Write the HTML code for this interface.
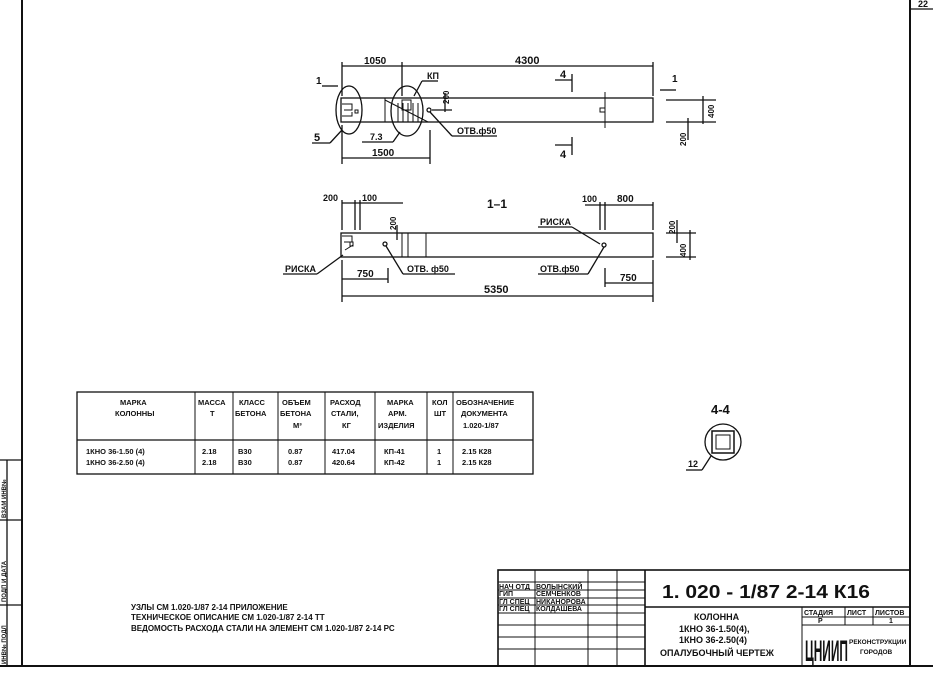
<!DOCTYPE html>
<html><head><meta charset="utf-8"><style>
html,body{margin:0;padding:0;background:#fff;width:933px;height:680px;overflow:hidden}
svg{display:block}
text{font-family:"Liberation Sans","DejaVu Sans",sans-serif;font-weight:bold;fill:#111}
</style></head><body>
<svg width="933" height="680" viewBox="0 0 933 680" xmlns="http://www.w3.org/2000/svg" stroke="#111" fill="none" stroke-width="1.3">
<line x1="22" y1="0" x2="22" y2="666" stroke-width="2"/>
<line x1="910" y1="0" x2="910" y2="666" stroke-width="2"/>
<line x1="0" y1="666" x2="933" y2="666" stroke-width="2"/>
<line x1="910" y1="9" x2="933" y2="9"/>
<text x="918" y="7" font-size="9" stroke="none">22</text>
<line x1="0" y1="460" x2="22" y2="460"/>
<line x1="0" y1="520" x2="22" y2="520"/>
<line x1="0" y1="605" x2="22" y2="605"/>
<line x1="7" y1="460" x2="7" y2="666"/>
<text transform="translate(6,518) rotate(-90)" font-size="6" stroke="none">ВЗАМ ИНВ№</text>
<text transform="translate(6,602) rotate(-90)" font-size="6" stroke="none">ПОДП И ДАТА</text>
<text transform="translate(6,664) rotate(-90)" font-size="6" stroke="none">ИНВ№ ПОДЛ</text>

<rect x="341" y="98" width="312" height="24"/>
<ellipse cx="349" cy="110" rx="13" ry="24"/>
<ellipse cx="407" cy="111" rx="16" ry="25"/>
<path d="M342 104h10v6h-8 M342 116h10v-4 M355 110h3v3h-3z M402 100h9v10h-9z" stroke-width="1"/>
<path d="M385 98v24 M398 103v19 M403 103v19 M408 103v19 M413 103v19 M418 103v19 M385 100l43 22" stroke-width="1"/>
<circle cx="429" cy="110" r="2"/>
<path d="M605 92v36 M600 108h5v4h-5z" stroke-width="1"/>
<line x1="342" y1="66" x2="653" y2="66"/>
<line x1="342" y1="62" x2="342" y2="96"/><line x1="402" y1="62" x2="402" y2="96"/><line x1="653" y1="62" x2="653" y2="96"/>
<text x="364" y="64" font-size="10" stroke="none">1050</text>
<text x="515" y="64" font-size="11" stroke="none">4300</text>
<line x1="342" y1="158" x2="430" y2="158"/>
<line x1="342" y1="125" x2="342" y2="164"/><line x1="430" y1="130" x2="430" y2="164"/>
<text x="372" y="156" font-size="10" stroke="none">1500</text>
<line x1="322" y1="86" x2="338" y2="86"/><text x="316" y="84" font-size="10" stroke="none">1</text>
<line x1="660" y1="90" x2="676" y2="90"/><text x="672" y="82" font-size="10" stroke="none">1</text>
<path d="M555 80h17 M572 74v18 M555 145h17 M572 137v18"/>
<text x="560" y="78" font-size="11" stroke="none">4</text>
<text x="560" y="158" font-size="11" stroke="none">4</text>
<line x1="445" y1="93" x2="445" y2="112"/><line x1="432" y1="110" x2="452" y2="110"/>
<text transform="translate(449,104) rotate(-90)" font-size="8" stroke="none">200</text>
<line x1="666" y1="100" x2="716" y2="100"/><line x1="666" y1="122" x2="716" y2="122"/>
<line x1="703" y1="96" x2="703" y2="124"/><line x1="688" y1="118" x2="688" y2="140"/>
<text transform="translate(714,118) rotate(-90)" font-size="8" stroke="none">400</text>
<text transform="translate(686,146) rotate(-90)" font-size="8" stroke="none">200</text>
<text x="427" y="79" font-size="9" stroke="none">КП</text><line x1="422" y1="81" x2="438" y2="81"/><line x1="422" y1="81" x2="414" y2="96"/>
<text x="314" y="141" font-size="11" stroke="none">5</text><line x1="312" y1="143" x2="330" y2="143"/><line x1="330" y1="143" x2="342" y2="130"/>
<text x="370" y="140" font-size="9" stroke="none">7.3</text><line x1="362" y1="142" x2="393" y2="142"/><line x1="393" y1="142" x2="400" y2="132"/>
<text x="457" y="134" font-size="9" stroke="none">ОТВ.ф50</text><line x1="452" y1="136" x2="497" y2="136"/><line x1="452" y1="136" x2="430" y2="112"/>

<text x="487" y="208" font-size="12" stroke="none">1–1</text>
<rect x="341" y="233" width="312" height="24"/>
<path d="M402 233v24 M408 233v24 M426 233v24 M342 236h10v6h-8 M345 250l8-5 M350 242h3v4h-3z" stroke-width="1"/>
<circle cx="385" cy="244" r="2"/><circle cx="604" cy="245" r="2"/>
<line x1="342" y1="203" x2="403" y2="203"/>
<line x1="342" y1="200" x2="342" y2="230"/><line x1="355" y1="200" x2="355" y2="230"/><line x1="360" y1="200" x2="360" y2="230"/>
<text x="323" y="201" font-size="9" stroke="none">200</text><text x="362" y="201" font-size="9" stroke="none">100</text>
<line x1="585" y1="205" x2="653" y2="205"/>
<line x1="600" y1="202" x2="600" y2="230"/><line x1="605" y1="202" x2="605" y2="230"/><line x1="653" y1="202" x2="653" y2="230"/>
<text x="582" y="202" font-size="9" stroke="none">100</text><text x="617" y="202" font-size="10" stroke="none">800</text>
<line x1="397" y1="225" x2="397" y2="240"/>
<text transform="translate(396,230) rotate(-90)" font-size="8" stroke="none">200</text>
<line x1="666" y1="233" x2="696" y2="233"/><line x1="666" y1="257" x2="696" y2="257"/>
<line x1="690" y1="230" x2="690" y2="260"/><line x1="677" y1="220" x2="677" y2="243"/>
<text transform="translate(686,257) rotate(-90)" font-size="8" stroke="none">400</text>
<text transform="translate(675,234) rotate(-90)" font-size="8" stroke="none">200</text>
<text x="540" y="225" font-size="9" stroke="none">РИСКА</text><line x1="538" y1="227" x2="572" y2="227"/><line x1="572" y1="227" x2="600" y2="244"/>
<text x="285" y="272" font-size="9" stroke="none">РИСКА</text><line x1="283" y1="274" x2="317" y2="274"/><line x1="317" y1="274" x2="343" y2="255"/>
<text x="407" y="272" font-size="9" stroke="none">ОТВ. ф50</text><line x1="403" y1="274" x2="455" y2="274"/><line x1="403" y1="274" x2="386" y2="246"/>
<text x="540" y="272" font-size="9" stroke="none">ОТВ.ф50</text><line x1="538" y1="274" x2="588" y2="274"/><line x1="588" y1="274" x2="604" y2="247"/>
<line x1="342" y1="279" x2="388" y2="279"/><line x1="605" y1="283" x2="653" y2="283"/>
<line x1="342" y1="260" x2="342" y2="302"/><line x1="388" y1="268" x2="388" y2="283"/><line x1="605" y1="268" x2="605" y2="287"/><line x1="653" y1="260" x2="653" y2="302"/>
<text x="357" y="277" font-size="10" stroke="none">750</text><text x="620" y="281" font-size="10" stroke="none">750</text>
<line x1="342" y1="296" x2="653" y2="296"/>
<text x="484" y="293" font-size="11" stroke="none">5350</text>

<rect x="77" y="392" width="456" height="82"/>
<line x1="77" y1="440" x2="533" y2="440"/>
<path d="M195 392v82 M233 392v82 M278 392v82 M325 392v82 M375 392v82 M427 392v82 M453 392v82" stroke-width="1"/>
<g font-size="7.5" stroke="none">
<text x="120" y="405">МАРКА</text><text x="115" y="416">КОЛОННЫ</text>
<text x="198" y="405">МАССА</text><text x="210" y="416">Т</text>
<text x="239" y="405">КЛАСС</text><text x="235" y="416">БЕТОНА</text>
<text x="282" y="405">ОБЪЕМ</text><text x="280" y="416">БЕТОНА</text><text x="293" y="428">М³</text>
<text x="330" y="405">РАСХОД</text><text x="331" y="416">СТАЛИ,</text><text x="342" y="428">КГ</text>
<text x="387" y="405">МАРКА</text><text x="388" y="416">АРМ.</text><text x="378" y="428">ИЗДЕЛИЯ</text>
<text x="432" y="405">КОЛ</text><text x="434" y="416">ШТ</text>
<text x="456" y="405">ОБОЗНАЧЕНИЕ</text><text x="461" y="416">ДОКУМЕНТА</text><text x="463" y="428">1.020-1/87</text>
<text x="86" y="454">1КНО 36-1.50 (4)</text><text x="86" y="465">1КНО 36-2.50 (4)</text>
<text x="202" y="454">2.18</text><text x="202" y="465">2.18</text>
<text x="238" y="454">В30</text><text x="238" y="465">В30</text>
<text x="288" y="454">0.87</text><text x="288" y="465">0.87</text>
<text x="332" y="454">417.04</text><text x="332" y="465">420.64</text>
<text x="384" y="454">КП-41</text><text x="384" y="465">КП-42</text>
<text x="437" y="454">1</text><text x="437" y="465">1</text>
<text x="462" y="454">2.15 К28</text><text x="462" y="465">2.15 К28</text>
</g>

<text x="711" y="414" font-size="13" stroke="none" font-weight="normal">4-4</text>
<circle cx="723" cy="442" r="18"/>
<rect x="712" y="431" width="22" height="22" stroke-width="1.5"/>
<rect x="716" y="435" width="14" height="14" stroke-width="1"/>
<text x="688" y="467" font-size="9" stroke="none">12</text><line x1="686" y1="470" x2="702" y2="470"/><line x1="702" y1="470" x2="711" y2="456"/>

<g font-size="8" stroke="none">
<text x="131" y="610">УЗЛЫ СМ 1.020-1/87 2-14 ПРИЛОЖЕНИЕ</text>
<text x="131" y="620">ТЕХНИЧЕСКОЕ ОПИСАНИЕ СМ 1.020-1/87 2-14 ТТ</text>
<text x="131" y="631">ВЕДОМОСТЬ РАСХОДА СТАЛИ НА ЭЛЕМЕНТ СМ 1.020-1/87 2-14 РС</text>
</g>

<rect x="498" y="570" width="412" height="96" stroke-width="1.6"/>
<line x1="645" y1="570" x2="645" y2="666" stroke-width="1.6"/>
<line x1="645" y1="607" x2="910" y2="607" stroke-width="1.4"/>
<path d="M535 570v96 M588 570v96 M617 570v96 M498 582h147 M498 590h147 M498 598h147 M498 605h147 M498 613h147 M498 625h147 M498 637h147 M498 649h147" stroke-width="1"/>
<path d="M802 607v59 M845 607v18 M873 607v18 M802 617h108 M802 625h108" stroke-width="1"/>
<g font-size="7" stroke="none">
<text x="499" y="589">НАЧ ОТД</text><text x="536" y="589">ВОЛЫНСКИЙ</text>
<text x="499" y="596">ГИП</text><text x="536" y="596">СЕМЧЕНКОВ</text>
<text x="499" y="604">ГЛ СПЕЦ</text><text x="536" y="604">НИКАНОРОВА</text>
<text x="499" y="611">ГЛ СПЕЦ</text><text x="536" y="611">КОЛДАШЕВА</text>
<text x="804" y="615">СТАДИЯ</text><text x="847" y="615">ЛИСТ</text><text x="875" y="615">ЛИСТОВ</text>
<text x="818" y="623">Р</text><text x="889" y="623">1</text>
</g>
<g font-size="6.5" stroke="none">
<text x="849" y="644">РЕКОНСТРУКЦИИ</text><text x="860" y="654">ГОРОДОВ</text>
</g>
<text x="662" y="598" font-size="18" stroke="none" font-weight="normal" textLength="208" lengthAdjust="spacingAndGlyphs">1. 020 - 1/87  2-14  К16</text>
<g font-size="9" stroke="none">
<text x="694" y="620">КОЛОННА</text>
<text x="679" y="632">1КНО 36-1.50(4),</text>
<text x="679" y="643">1КНО 36-2.50(4)</text>
<text x="660" y="656">ОПАЛУБОЧНЫЙ ЧЕРТЕЖ</text>
</g>
<text x="805" y="661" font-size="30" stroke="none" font-weight="normal" textLength="43" lengthAdjust="spacingAndGlyphs">ЦНИИП</text>
</svg>
</body></html>
